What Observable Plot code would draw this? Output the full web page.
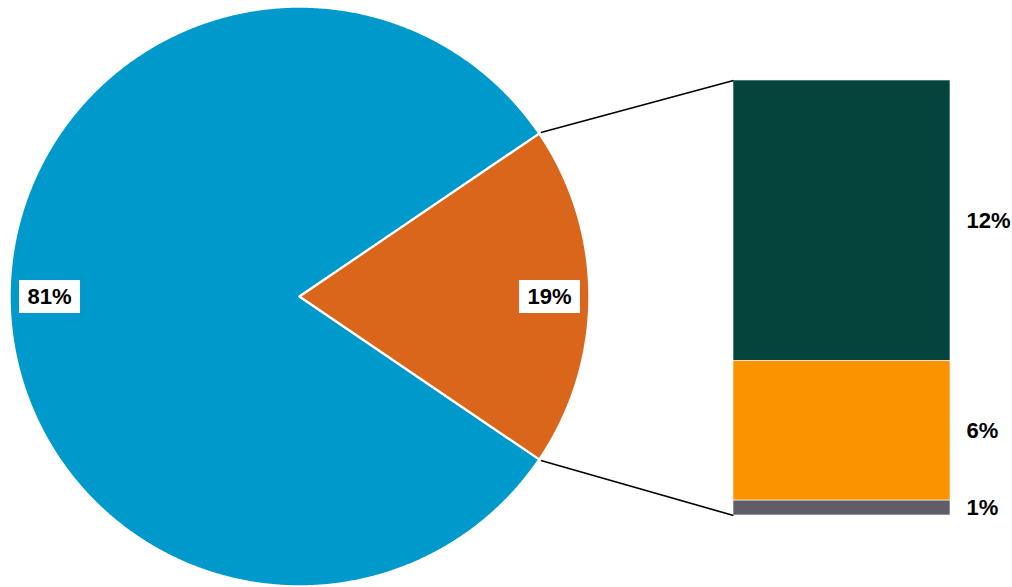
<!DOCTYPE html>
<html><head><meta charset="utf-8">
<script src="https://cdn.jsdelivr.net/npm/d3@7"></script>
<script src="https://cdn.jsdelivr.net/npm/@observablehq/plot@0.6"></script>
<style>body{margin:0;background:#fff} #chart{width:1012px;height:587px}</style>
</head><body><div id="chart"></div>
<script>
// ---- data ----
const pieCategories = ["Rest", "Breakdown"];
const pieValues = [81, 19];
const pieColors = ["#0099CC", "#D9661A"];
const barCategories = ["Part 1", "Part 2", "Part 3"];
const barValues = [12.25, 6.1, 0.65];
const barColors = ["#05443D", "#FB9300", "#5F5E68"];

// ---- layout (pixels) ----
const W = 1012, H = 587;
const R = 289, CX = 299, CY = 296;           // pie centre and radius
const BAR_L = 733, BAR_R = 950, BAR_T = 80, BAR_B = 515;
const u = px => px / R;                        // px -> pie-radius units
const bx1 = u(BAR_L - CX), bx2 = u(BAR_R - CX);
const byTop = u(CY - BAR_T), byBot = u(CY - BAR_B);

// ---- pie geometry ----
const total = d3.sum(pieValues);
const start = Math.PI / 2 + Math.PI * pieValues[1] / total;
const arcs = d3.pie().sort(null).startAngle(start).endAngle(start + 2 * Math.PI)(pieValues);
const pt = (a, r) => ({x: r * Math.sin(a), y: r * Math.cos(a)});
const slicePts = [];
arcs.forEach((a, i) => {
  const cat = pieCategories[i];
  slicePts.push({cat, x: 0, y: 0});
  const n = Math.ceil((a.endAngle - a.startAngle) / (Math.PI / 720));
  for (let k = 0; k <= n; k++) {
    const ang = a.startAngle + (a.endAngle - a.startAngle) * k / n;
    slicePts.push({cat, ...pt(ang, 1.003)});
  }
});
const pieLabels = arcs.map((a, i) => ({
  cat: pieCategories[i],
  text: pieValues[i] + "%",
  ...pt((a.startAngle + a.endAngle) / 2, 0.865)
}));

// ---- bar geometry ----
const barTotal = d3.sum(barValues);
const k = (byTop - byBot) / barTotal;
const cum = [0, ...d3.cumsum(barValues)];
const barData = barValues.map((v, i) => ({
  cat: barCategories[i], value: v,
  y1: byBot + (barTotal - cum[i]) * k,
  y2: byBot + (barTotal - cum[i + 1]) * k
}));

// ---- connectors ----
const sel = arcs[1];
const links = [
  {a: pt(sel.startAngle, 1.01), b: {x: bx1, y: byTop}},
  {a: pt(sel.endAngle, 1.01), b: {x: bx1, y: byBot}}
];

const boxSymbol = {draw(ctx) { ctx.rect(-30.5, -16.5, 61, 33); }};
const font = "'Liberation Sans', Arial, sans-serif";

const chart = Plot.plot({
  width: W, height: H,
  margin: 0,
  x: {domain: [u(-CX), u(W - CX)], axis: null},
  y: {domain: [u(CY - H), u(CY)], axis: null},
  color: {domain: [...pieCategories, ...barCategories], range: [...pieColors, ...barColors]},
  style: {background: "white", fontFamily: font},
  marks: [
    Plot.line(slicePts, {x: "x", y: "y", z: "cat", fill: "cat", stroke: "white", strokeWidth: 2.2, curve: "linear-closed"}),
    Plot.rect(barData, {x1: () => bx1, x2: () => bx2, y1: "y1", y2: "y2", fill: "cat", stroke: "white", strokeWidth: 0.6}),
    Plot.link(links, {x1: d => d.a.x, y1: d => d.a.y, x2: d => d.b.x, y2: d => d.b.y, stroke: "black", strokeWidth: 1.6}),
    Plot.dot(pieLabels, {x: "x", y: "y", symbol: boxSymbol, fill: "white", stroke: null, r: 10}),
    Plot.text(pieLabels, {x: "x", y: "y", text: "text", fontSize: 22, fontWeight: "bold", fill: "black"}),
    Plot.text(barData, {x: () => bx2, y: d => (d.y1 + d.y2) / 2, text: d => d3.format(".0f")(d.value) + "%", textAnchor: "start", dx: 16, fontSize: 22, fontWeight: "bold", fill: "black"})
  ]
});
document.getElementById("chart").appendChild(chart);
</script>
</body></html>
